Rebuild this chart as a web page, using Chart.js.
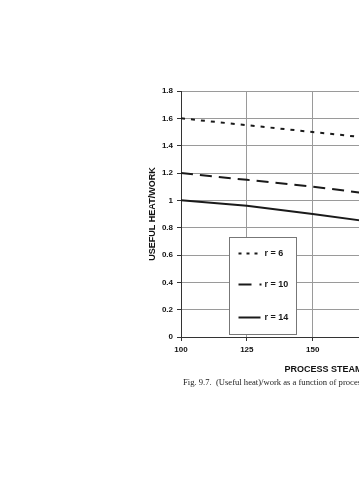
<!DOCTYPE html>
<html><head><meta charset="utf-8">
<script src="https://cdn.jsdelivr.net/npm/chart.js@4/dist/chart.umd.min.js"></script>
<style>
html,body{margin:0;padding:0;width:359px;height:480px;overflow:hidden;background:#fff;}
#c{position:absolute;left:140px;top:0;}
#cap{position:absolute;left:183px;top:377px;font-family:"Liberation Serif","Times New Roman",serif;font-size:8.6px;line-height:10px;white-space:nowrap;color:#222;}
</style></head><body>
<canvas id="c" width="460" height="400"></canvas>
<div id="cap">Fig. 9.7.&nbsp; (Useful heat)/work as a function of process steam temperature.</div>
<script>
// Data
const temperatures = [100, 125, 150, 175];
const seriesLabels = ['r = 6', 'r = 10', 'r = 14'];
const r6Values  = [1.60, 1.55, 1.50, 1.45];
const r10Values = [1.20, 1.15, 1.10, 1.04];
const r14Values = [1.00, 0.96, 0.90, 0.835];
const xTicks = [100, 125, 150, 175, 200, 225, 250];
const yTicks = [0, 0.2, 0.4, 0.6, 0.8, 1, 1.2, 1.4, 1.6, 1.8];

const pts = vals => temperatures.map((t, i) => ({x: t, y: vals[i]}));

const legendDash = [[3, 5], [13, 8, 2, 20], []];
const legendLen = [22, 24, 22];

const boxLegend = {
  id: 'boxLegend',
  afterDatasetsDraw(chart) {
    const {ctx, chartArea: ca} = chart;
    const bx = Math.round(ca.left + 48) + 0.5, by = Math.round(ca.top + 146) + 0.5, bw = 67, bh = 97;
    ctx.save();
    ctx.fillStyle = '#fff';
    ctx.fillRect(bx, by, bw, bh);
    ctx.strokeStyle = '#777';
    ctx.lineWidth = 1;
    ctx.strokeRect(bx, by, bw, bh);
    const rows = [16, 47, 80];
    chart.data.datasets.forEach((ds, i) => {
      const y = by + rows[i];
      ctx.beginPath();
      ctx.setLineDash(legendDash[i]);
      ctx.strokeStyle = '#1a1a1a';
      ctx.lineWidth = 2;
      ctx.moveTo(bx + 9, y);
      ctx.lineTo(bx + 9 + legendLen[i], y);
      ctx.stroke();
      ctx.setLineDash([]);
      ctx.fillStyle = '#1a1a1a';
      ctx.font = 'bold 9px "Liberation Sans", Arial, sans-serif';
      ctx.textBaseline = 'middle';
      ctx.textAlign = 'left';
      ctx.fillText(ds.label, bx + 35, y);
    });
    ctx.restore();
  }
};

const tickFont = {family: '"Liberation Sans", Arial, sans-serif', size: 8, weight: 'bold'};
const titleFont = {family: '"Liberation Sans", Arial, sans-serif', size: 9, weight: 'bold'};

new Chart(document.getElementById('c'), {
  type: 'line',
  data: {
    datasets: [
      {label: seriesLabels[0], data: pts(r6Values), borderColor: '#1a1a1a', borderWidth: 2, borderDash: [4, 6], pointRadius: 0, fill: false, tension: 0},
      {label: seriesLabels[1], data: pts(r10Values), borderColor: '#1a1a1a', borderWidth: 2, borderDash: [12, 7], pointRadius: 0, fill: false, tension: 0},
      {label: seriesLabels[2], data: pts(r14Values), borderColor: '#1a1a1a', borderWidth: 2, pointRadius: 0, fill: false, tension: 0}
    ]
  },
  options: {
    responsive: false,
    animation: false,
    devicePixelRatio: 1,
    layout: {padding: {left: 0, top: 91, right: 24, bottom: 0}},
    plugins: {legend: {display: false}, tooltip: {enabled: false}},
    scales: {
      x: {
        type: 'linear',
        min: xTicks[0], max: xTicks[xTicks.length - 1],
        afterBuildTicks: s => { s.ticks = xTicks.map(v => ({value: v})); },
        afterFit: s => { s.height = 63; },
        ticks: {font: tickFont, color: '#111', padding: 4, maxRotation: 0},
        grid: {color: '#9a9a9a', lineWidth: 1, tickLength: 4, tickColor: '#333'},
        border: {color: '#333', width: 1},
        title: {display: true, text: 'PROCESS STEAM TEMPERATURE (DEG. C)', font: titleFont, color: '#111', padding: {top: 0, bottom: 25}}
      },
      y: {
        min: 0, max: 1.8,
        afterBuildTicks: s => { s.ticks = yTicks.map(v => ({value: v})); },
        afterFit: s => { s.width = 41; },
        ticks: {font: tickFont, color: '#111', padding: 4, callback: v => String(v)},
        grid: {color: '#9a9a9a', lineWidth: 1, tickLength: 4, tickColor: '#333'},
        border: {color: '#333', width: 1},
        title: {display: true, text: 'USEFUL HEAT/WORK', font: titleFont, color: '#111', padding: {top: 7, bottom: 0}}
      }
    }
  },
  plugins: [boxLegend]
});
</script>
</body></html>
